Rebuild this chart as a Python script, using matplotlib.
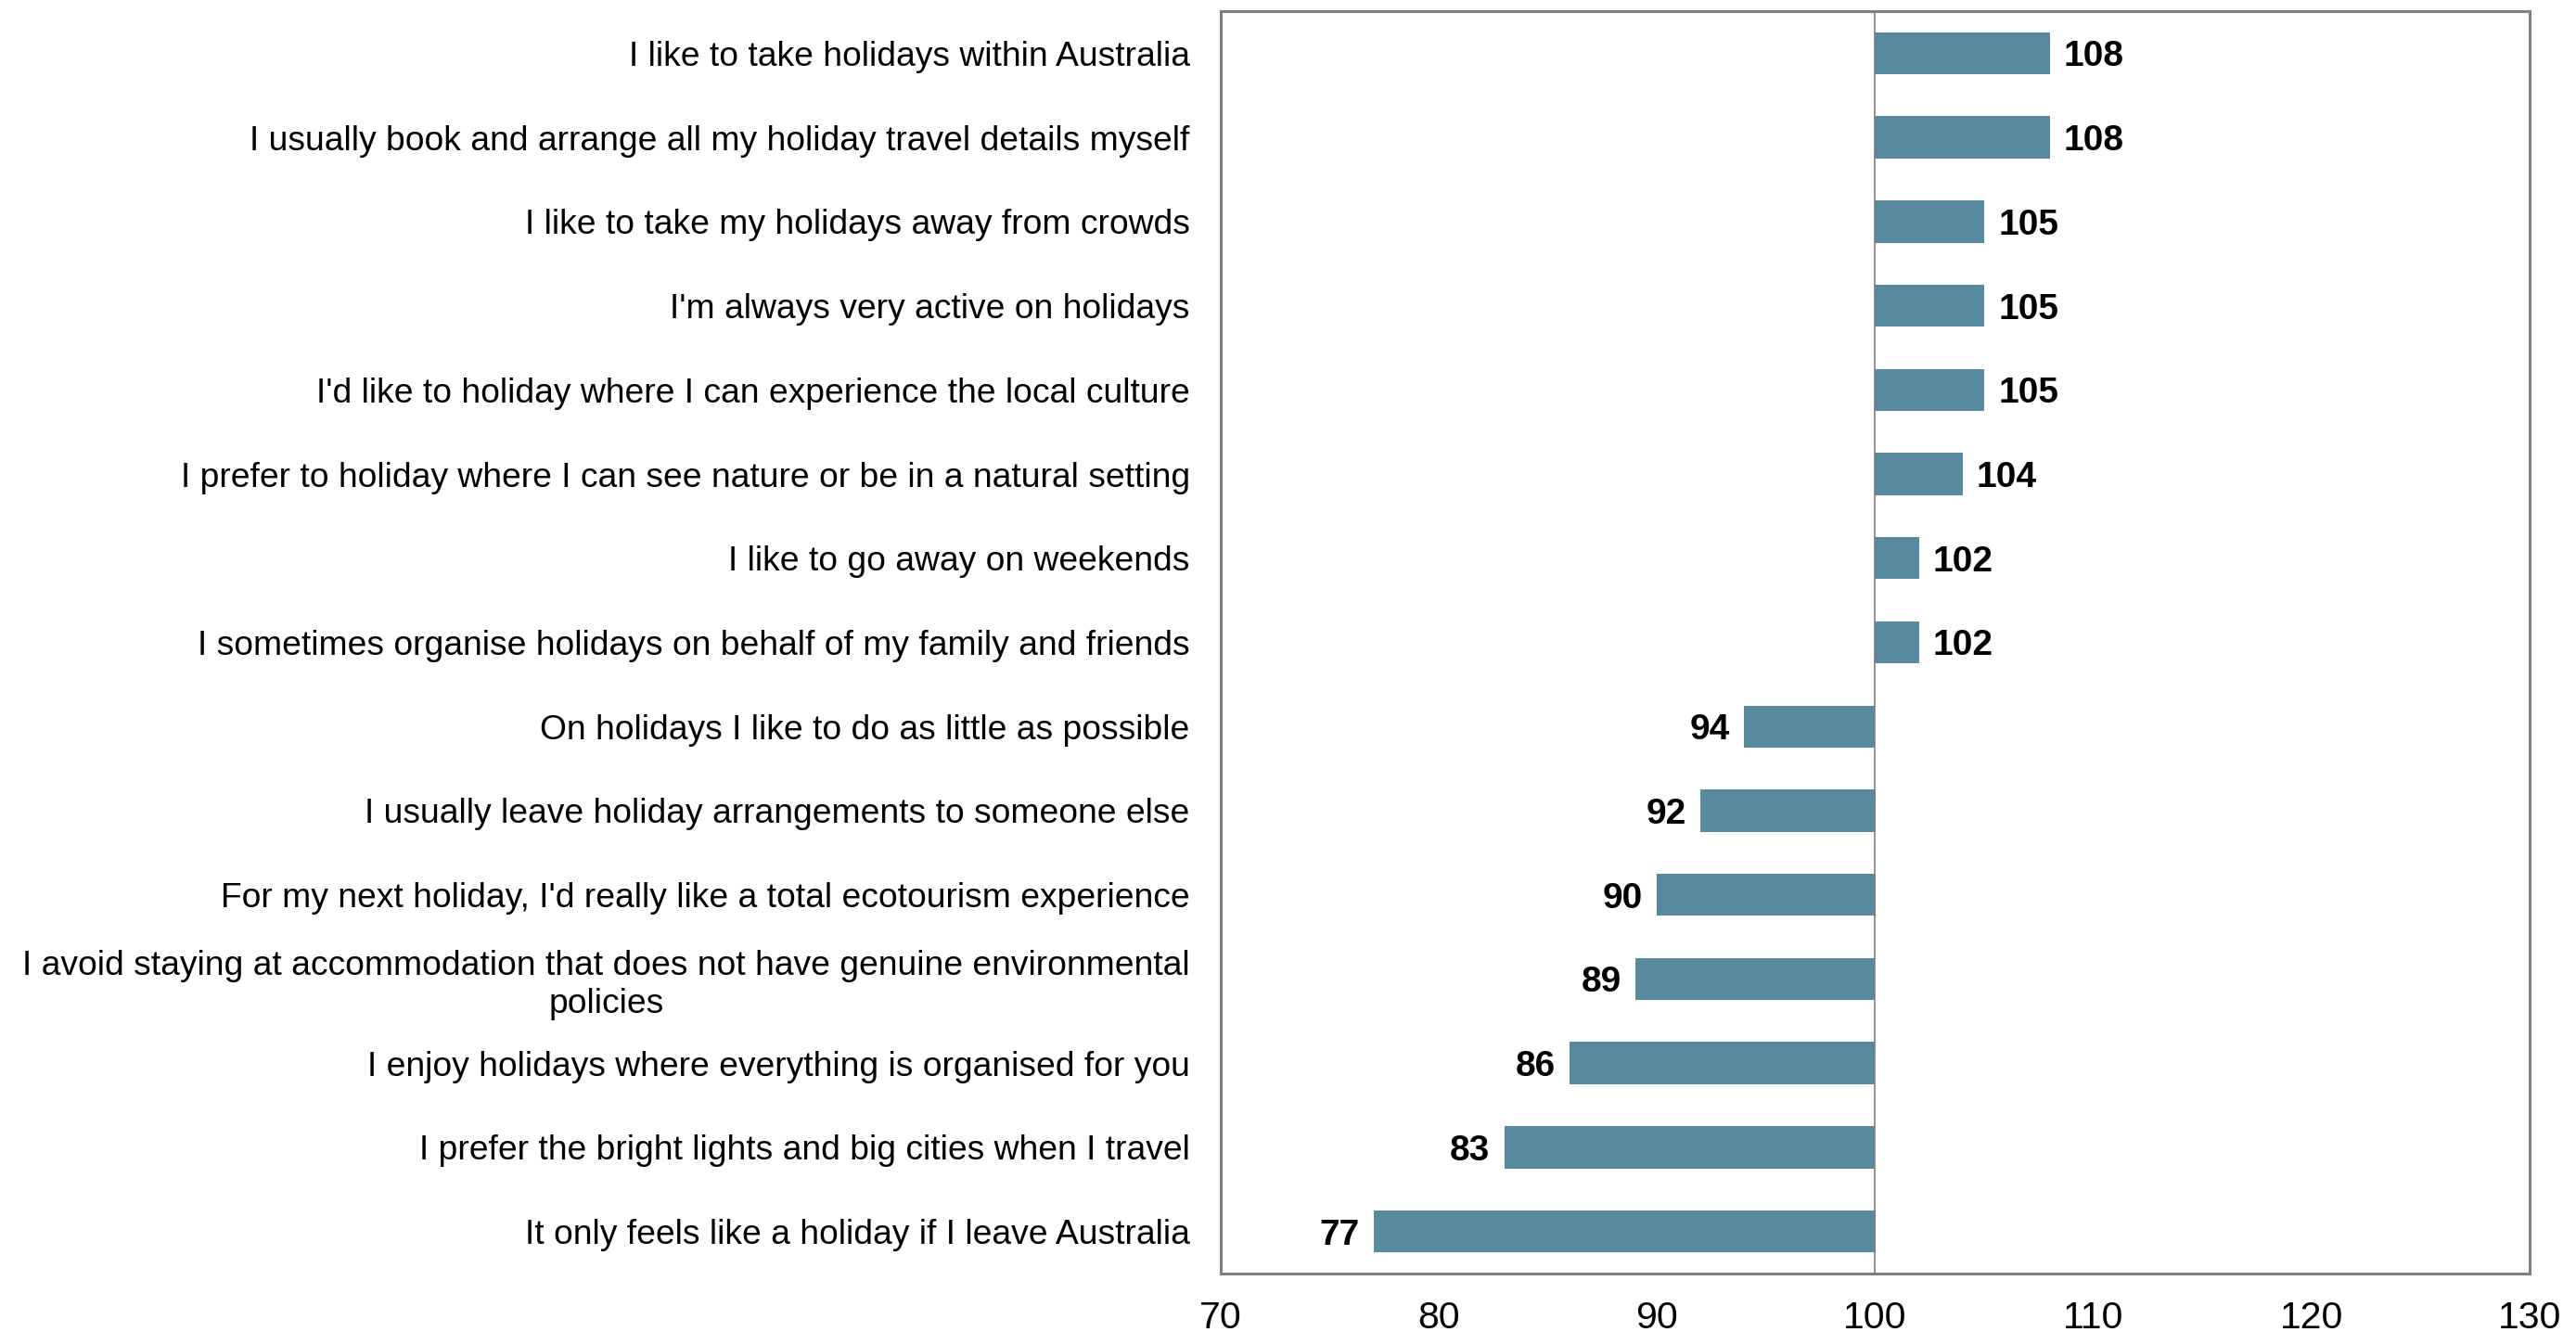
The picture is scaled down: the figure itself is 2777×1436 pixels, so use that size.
import matplotlib
matplotlib.use("Agg")
import matplotlib.pyplot as plt

categories = [
    "I like to take holidays within Australia",
    "I usually book and arrange all my holiday travel details myself",
    "I like to take my holidays away from crowds",
    "I'm always very active on holidays",
    "I'd like to holiday where I can experience the local culture",
    "I prefer to holiday where I can see nature or be in a natural setting",
    "I like to go away on weekends",
    "I sometimes organise holidays on behalf of my family and friends",
    "On holidays I like to do as little as possible",
    "I usually leave holiday arrangements to someone else",
    "For my next holiday, I'd really like a total ecotourism experience",
    "I avoid staying at accommodation that does not have genuine environmental\npolicies",
    "I enjoy holidays where everything is organised for you",
    "I prefer the bright lights and big cities when I travel",
    "It only feels like a holiday if I leave Australia",
]
values = [108, 108, 105, 105, 105, 104, 102, 102, 94, 92, 90, 89, 86, 83, 77]
baseline = 100
xticks = [70, 80, 90, 100, 110, 120, 130]

plt.rcParams['font.family'] = ['Liberation Sans', 'DejaVu Sans']

fig = plt.figure(figsize=(27.77, 14.36), dpi=100)
ax = fig.add_axes([1316/2777, 1-1373/1436, (2727-1316)/2777, (1373-12)/1436])

bar_color = '#578A9F'
ypos = list(range(len(categories)))
lefts = [min(v, baseline) for v in values]
widths = [abs(v - baseline) for v in values]
ax.barh(ypos, widths, left=lefts, height=0.5, color=bar_color, edgecolor='none', zorder=2)

for y, v in zip(ypos, values):
    if v >= baseline:
        ax.annotate(str(v), (v, y), xytext=(11, 0), textcoords='offset points',
                    ha='left', va='center_baseline', fontsize=28, fontweight='bold', color='black')
    else:
        ax.annotate(str(v), (v, y), xytext=(-11, 0), textcoords='offset points',
                    ha='right', va='center_baseline', fontsize=28, fontweight='bold', color='black')

ax.axvline(baseline, color='#7f7f7f', linewidth=1.2, zorder=3)

ax.set_xlim(70, 130)
ax.set_ylim(len(categories) - 0.5, -0.5)
ax.set_xticks(xticks)
ax.set_xticklabels([str(t) for t in xticks], fontsize=29.5)
ax.set_yticks(ypos)
ax.set_yticklabels(categories, fontsize=26.8, multialignment='center')
ax.tick_params(axis='both', length=0)
ax.tick_params(axis='y', pad=24)
ax.tick_params(axis='x', pad=21)

for s in ax.spines.values():
    s.set_color('#808080')
    s.set_linewidth(2.2)

fig.savefig('out.png', dpi=100)
